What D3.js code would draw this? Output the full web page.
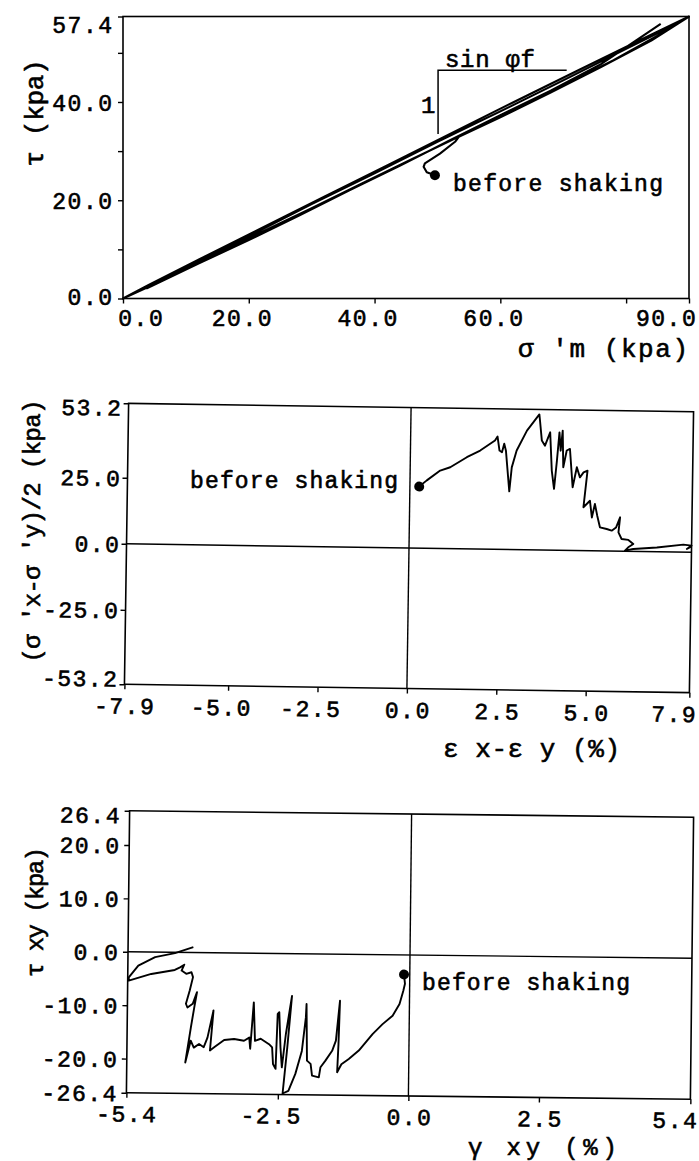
<!DOCTYPE html>
<html>
<head>
<meta charset="utf-8">
<script src="https://cdn.jsdelivr.net/npm/d3@7"></script>
<style>
  body { margin: 0; background: #fff; }
  text { font-family: "Liberation Mono", "DejaVu Sans Mono", monospace; fill: #000; stroke: #000; stroke-width: 0.6px; }
</style>
</head>
<body>
<div id="chart"></div>
<script>
// ---------- data ----------

// panel 1: tau vs sigma'm
const p1XTicks = [0, 20, 40, 60, 80, 90];
const p1XLabels = ["0.0", "20.0", "40.0", "60.0", "", "90.0"];
const p1YTicks = [0, 10, 20, 30, 40, 50, 57.4];
const p1YLabels = ["0.0", "", "20.0", "", "40.0", "", "57.4"];
const p1Start = [49.6, 25.1];
const p1Path = [
  [49.6, 25.1], [48.3, 25.7], [47.8, 26.8], [48.0, 27.5], [50.4, 29.5], [52.8, 31.9], [53.4, 32.9],
  [60, 36.9], [68, 41.9], [76, 47.1], [84, 52.5], [90, 57.4],
  [82, 52.5], [72, 46.2], [62, 39.9], [52, 33.5], [42, 27.1], [32, 20.7], [22, 14.3], [12, 7.9], [4, 2.7], [0, 0],
  [6, 3.5], [14, 8.5], [22, 13.5], [30, 18.4], [38, 23.4], [46, 28.4], [54, 33.3], [62, 38.2], [70, 43.3], [78, 48.5], [86, 54.2], [88.5, 56.2],
  [80, 50.8], [70, 44.4], [60, 38.1], [50, 31.9], [40, 25.5], [30, 19.2], [20, 12.7], [10, 6.2], [3.8, 2.1],
  [12, 7.1], [20, 11.9], [28, 16.9], [36, 22.0], [44, 27.0], [52, 32.2], [60, 37.3], [68, 42.3], [76, 47.7], [85.5, 55.9]
];
const p1Slope = [[50.1, 33.5], [50.1, 46.45], [70.55, 46.45]];

// panel 2: (s'x - s'y)/2 vs ex - ey
const p2XTicks = [-7.9, -5.0, -2.5, 0, 2.5, 5.0, 7.9];
const p2XLabels = ["-7.9", "-5.0", "-2.5", "0.0", "2.5", "5.0", "7.9"];
const p2YTicks = [-53.2, -25, 0, 25, 53.2];
const p2YLabels = ["-53.2", "-25.0", "0.0", "25.0", "53.2"];
const p2Start = [0.26, 23.3];
const p2Path = [
  [0.26, 23.3], [0.47, 25.7], [0.84, 29.5], [1.12, 30.8], [1.58, 34.7], [1.95, 37.3], [2.36, 41.2], [2.43, 42.7],
  [2.49, 37.4], [2.56, 36.8], [2.62, 40.0], [2.67, 37.4], [2.78, 22.0], [2.84, 31.1], [2.97, 37.5], [3.25, 45.1],
  [3.59, 51.3], [3.61, 49.0], [3.67, 41.4], [3.76, 39.5], [3.90, 44.6], [3.96, 30.1], [4.03, 23.2], [4.10, 33.9],
  [4.16, 44.6], [4.20, 37.7], [4.25, 45.3], [4.28, 31.4], [4.37, 37.8], [4.46, 38.4], [4.55, 23.9], [4.66, 31.5],
  [4.75, 27.7], [4.85, 29.6], [4.96, 30.3], [4.86, 16.4], [5.04, 18.9], [5.10, 12.6], [5.18, 17.7], [5.25, 13.3],
  [5.33, 8.9], [5.52, 8.3], [5.66, 7.7], [5.78, 8.9], [5.89, 12.8], [5.85, 7.1], [5.94, 4.6], [6.13, 4.3],
  [6.27, 2.8], [6.13, 1.5], [6.04, 0.2], [6.27, 0.9], [6.93, 1.6], [7.67, 2.8], [7.9, 2.5], [7.77, 1.2], [7.9, 2.2]
];

// panel 3: tau xy vs gamma xy
const p3XTicks = [-5.4, -2.5, 0, 2.5, 5.4];
const p3XLabels = ["-5.4", "-2.5", "0.0", "2.5", "5.4"];
const p3YTicks = [-26.4, -20, -10, 0, 10, 20, 26.4];
const p3YLabels = ["-26.4", "-20.0", "-10.0", "0.0", "10.0", "20.0", "26.4"];
const p3Start = [-0.11, -3.67];
const p3Path = [
  [-0.11, -3.67], [-0.09, -5.4], [-0.12, -6.7], [-0.19, -9.2], [-0.32, -11.4], [-0.51, -13.0], [-0.70, -14.9],
  [-0.96, -18.0], [-1.15, -19.6], [-1.29, -20.6], [-1.37, -22.1], [-1.35, -16.8], [-1.33, -8.7], [-1.40, -16.2],
  [-1.47, -18.1], [-1.60, -20.0], [-1.69, -21.2], [-1.72, -23.1], [-1.85, -22.8], [-1.88, -20.6], [-1.95, -20.0],
  [-1.97, -9.4], [-1.98, -11.9], [-2.05, -18.2], [-2.17, -22.5], [-2.30, -25.7], [-2.41, -26.2], [-2.33, -17.6],
  [-2.25, -7.9], [-2.36, -15.1], [-2.43, -21.3], [-2.46, -17.6], [-2.49, -11.0], [-2.52, -11.3], [-2.55, -21.6],
  [-2.60, -20.7], [-2.62, -17.6], [-2.68, -17.0], [-2.84, -16.0], [-2.95, -16.4], [-2.98, -9.2], [-3.04, -17.9],
  [-3.06, -15.8], [-3.16, -16.4], [-3.35, -16.1], [-3.54, -16.3], [-3.73, -17.7], [-3.81, -18.3], [-3.75, -10.8],
  [-3.86, -15.9], [-3.93, -17.7], [-4.02, -17.1], [-4.12, -17.8], [-4.18, -16.5], [-4.28, -20.6], [-4.18, -14.0],
  [-4.12, -10.3], [-4.07, -7.4], [-4.15, -9.6], [-4.25, -10.3], [-4.28, -9.6], [-4.21, -7.1], [-4.15, -4.6],
  [-4.18, -3.7], [-4.28, -4.0], [-4.37, -3.4], [-4.32, -2.3], [-4.40, -2.8], [-4.50, -3.3], [-4.95, -4.1],
  [-5.38, -5.4], [-5.38, -4.8], [-5.20, -2.55], [-4.88, -0.95], [-4.50, -0.16], [-4.15, 1.0]
];

// ---------- drawing ----------

const FS = 23, LS = 1.5, ADV = 0.6 * FS + LS;

const svg = d3.select("#chart")
  .append("svg")
    .attr("width", 699)
    .attr("height", 1161);

function panel(cfg) {
  const left = cfg.cx - cfg.w / 2, top = cfg.cy - cfg.h / 2;
  const g = svg.append("g")
    .attr("transform", `rotate(${cfg.angle},${cfg.cx},${cfg.cy}) translate(${left},${top})`);

  const x = d3.scaleLinear().domain(cfg.xDomain).range([0, cfg.w]);
  const y = d3.scaleLinear().domain(cfg.yDomain).range([cfg.h, 0]);

  if (cfg.zeroLines) {
    g.append("line").attr("x1", 0).attr("x2", cfg.w).attr("y1", y(0)).attr("y2", y(0))
      .attr("stroke", "#000").attr("stroke-width", 1.4);
    g.append("line").attr("x1", x(0)).attr("x2", x(0)).attr("y1", 0).attr("y2", cfg.h)
      .attr("stroke", "#000").attr("stroke-width", 1.4);
  }

  g.append("rect")
    .attr("width", cfg.w).attr("height", cfg.h)
    .attr("fill", "none").attr("stroke", "#000").attr("stroke-width", 1.6);

  //x axis
  const nx = cfg.xTicks.length;
  const gx = g.append("g")
    .attr("transform", `translate(0,${cfg.h})`)
    .call(d3.axisBottom(x).tickValues(cfg.xTicks).tickFormat((d, i) => cfg.xLabels[i]).tickSize(5));
  gx.attr("font-size", null).attr("font-family", null);
  gx.select(".domain").remove();
  gx.selectAll(".tick line").attr("stroke", "#000").attr("stroke-width", 1.4);
  gx.selectAll(".tick text")
    .attr("y", cfg.xLabelBase)
    .attr("dy", null)
    .attr("text-anchor", "start")
    .style("font-size", FS + "px")
    .style("letter-spacing", LS + "px")
    .attr("x", (d, i) => {
      const k = cfg.xLabels[i].indexOf(".");
      let shift = 0;
      if (i === 0) shift = cfg.firstShift;
      if (i === nx - 1) shift = -16;
      return shift - k * ADV - 0.3 * FS;
    });

  //y axis
  const ny = cfg.yTicks.length;
  const gy = g.append("g")
    .call(d3.axisLeft(y).tickValues(cfg.yTicks).tickFormat((d, i) => cfg.yLabels[i]).tickSize(5));
  gy.attr("font-size", null).attr("font-family", null);
  gy.select(".domain").remove();
  gy.selectAll(".tick line").attr("stroke", "#000").attr("stroke-width", 1.4);
  gy.selectAll(".tick text")
    .attr("x", cfg.yLabelX)
    .attr("dy", "0.35em")
    .style("font-size", FS + "px")
    .style("letter-spacing", LS + "px")
    .attr("y", (d, i) => (i === 0 ? cfg.yEdge[0] : i === ny - 1 ? cfg.yEdge[1] : 0));

  //stress path
  const line = d3.line().x(d => x(d[0])).y(d => y(d[1]));
  g.append("path")
    .datum(cfg.path)
    .attr("d", line)
    .attr("fill", "none")
    .attr("stroke", "#000")
    .attr("stroke-width", cfg.lineWidth)
    .attr("stroke-linejoin", "round");

  g.append("circle")
    .attr("cx", x(cfg.start[0]))
    .attr("cy", y(cfg.start[1]))
    .attr("r", 5)
    .attr("fill", "#000");

  return { g, x, y, line };
}

function label(txt, px, py, len, size, rotate) {
  const t = svg.append("text")
    .attr("x", px)
    .attr("y", py)
    .attr("textLength", len)
    .attr("lengthAdjust", "spacing")
    .style("font-size", size + "px")
    .text(txt);
  if (rotate) {
    t.attr("text-anchor", "middle").attr("transform", `rotate(-90,${px},${py})`);
  }
  return t;
}

// panel 1
const P1 = panel({
  cx: 406, cy: 157.5, w: 566, h: 282, angle: 0,
  xDomain: [0, 90], yDomain: [0, 57.4],
  xTicks: p1XTicks, xLabels: p1XLabels, yTicks: p1YTicks, yLabels: p1YLabels,
  xLabelBase: 27.5, firstShift: 17, yLabelX: -9.5, yEdge: [-2, 8],
  path: p1Path, start: p1Start, zeroLines: false, lineWidth: 2.1
});
P1.g.append("path")
  .datum(p1Slope)
  .attr("d", P1.line)
  .attr("fill", "none")
  .attr("stroke", "#000")
  .attr("stroke-width", 1.5);

label("sin φf", 445, 66.5, 90, 24);
label("1", 421, 113, 11, 24);
label("before shaking", 453, 191, 210, FS);
label("σ 'm (kpa)", 518, 357, 170, 26);
label("τ (kpa)", 43, 113, 107, 26, true);

// panel 2
panel({
  cx: 409, cy: 548, w: 565, h: 281, angle: 0.85,
  xDomain: [-7.9, 7.9], yDomain: [-53.2, 53.2],
  xTicks: p2XTicks, xLabels: p2XLabels, yTicks: p2YTicks, yLabels: p2YLabels,
  xLabelBase: 29.5, firstShift: 7, yLabelX: -6, yEdge: [-6, 4],
  path: p2Path, start: p2Start, zeroLines: true, lineWidth: 1.9
});
label("before shaking", 190, 488, 208, FS);
label("ε x-ε y (%)", 443, 757, 177, 26);
label("(σ 'x-σ 'y)/2 (kpa)", 40, 531, 263, 24, true);

// panel 3
panel({
  cx: 410, cy: 955, w: 564, h: 282, angle: 0.65,
  xDomain: [-5.4, 5.4], yDomain: [-26.4, 26.4],
  xTicks: p3XTicks, xLabels: p3XLabels, yTicks: p3YTicks, yLabels: p3YLabels,
  xLabelBase: 29, firstShift: 7, yLabelX: -8.5, yEdge: [0, 4],
  path: p3Path, start: p3Start, zeroLines: true, lineWidth: 1.9
});
label("before shaking", 422, 990, 208, FS);
label("γ xy  (%)", 468, 1155, 149, 24);
label("τ xy (kpa)", 43, 912, 130, 24, true);
</script>
</body>
</html>
